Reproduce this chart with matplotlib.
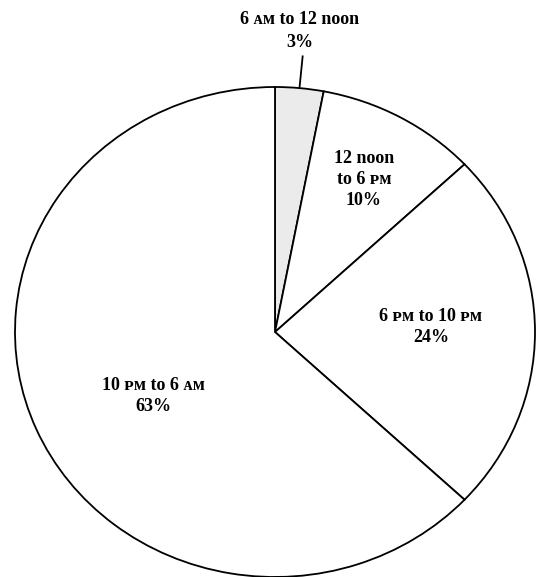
import numpy as np
import matplotlib.pyplot as plt

# time-of-day split
periods = ["6 \u1d00\u1d0d to 12 noon", "12 noon\nto 6 \u1d18\u1d0d", "6 \u1d18\u1d0d to 10 \u1d18\u1d0d", "10 \u1d18\u1d0d to 6 \u1d00\u1d0d"]
shares = [3, 10, 24, 63]
fills = ["#ebebeb", "white", "white", "white"]

plt.rcParams['font.family'] = ['Liberation Serif', 'DejaVu Serif']

fig = plt.figure(figsize=(5.36, 5.77), dpi=100)
ax = fig.add_axes([0, 0, 1, 1])

wedges, _ = ax.pie(shares, startangle=90, counterclock=False, colors=fills,
                   radius=1.0, center=(0, 0),
                   wedgeprops=dict(edgecolor="black", linewidth=1.3))

# stretch the circle a little: 260 px wide radius, 245 px tall
ax.set_aspect('auto')
ax.set_xlim(-275 / 260, (536 - 275) / 260)
ax.set_ylim(-(577 - 332) / 245, 332 / 245)
ax.axis('off')

label_r = [1.0, 0.71, 0.60, 0.535]
label_turn = [0, 0, 2, 6]   # degrees, nudges labels off the bisector
for k in range(0, len(shares)):
    w = wedges[k]
    mid = np.deg2rad((w.theta1 + w.theta2) / 2 + label_turn[k])
    text = periods[k] + "\n" + str(shares[k]) + "%"
    if k == 0:
        x0, y0 = np.cos(mid), np.sin(mid)
        ax.plot([x0, x0 * 1.13], [y0, y0 * 1.13], color="black", lw=1.3)
        ax.text(x0 * 1.0, 1.23, text, ha="center", va="center",
                fontsize=13, fontweight="bold", linespacing=1.45)
    else:
        ax.text(label_r[k] * np.cos(mid), label_r[k] * np.sin(mid), text,
                ha="center", va="center", fontsize=13, fontweight="bold",
                linespacing=1.3)

fig.savefig("out.png", dpi=100)
